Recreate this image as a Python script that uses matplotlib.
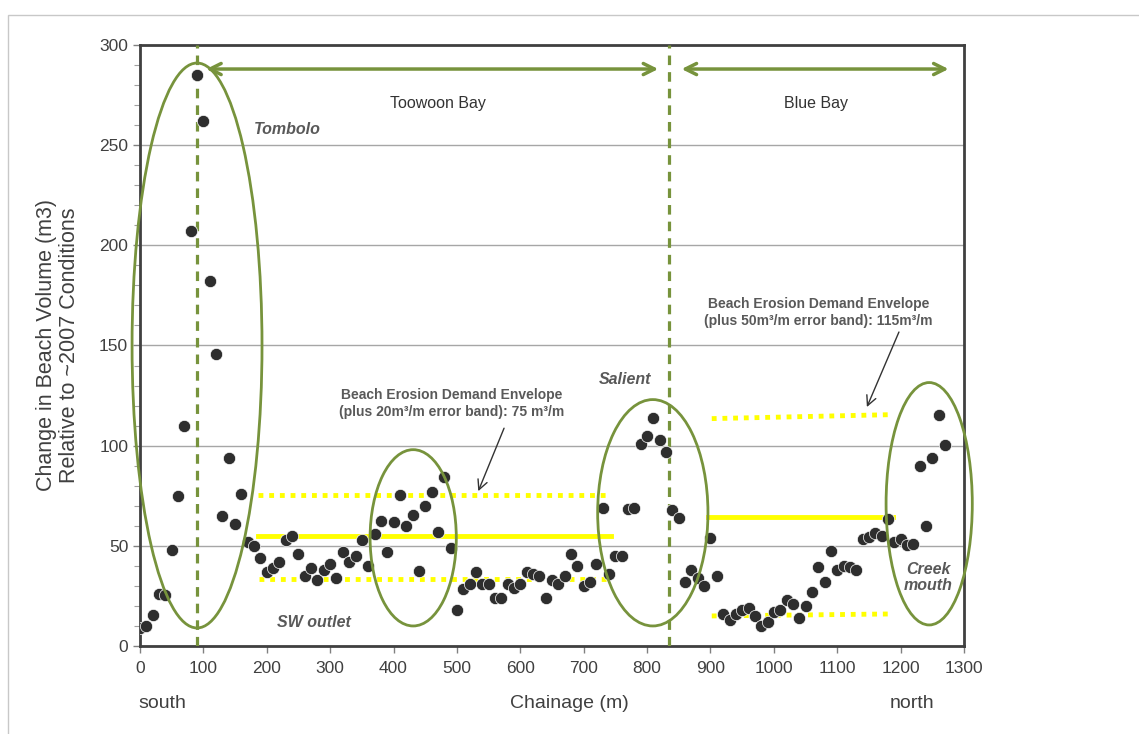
import numpy as np
import matplotlib.pyplot as plt
from matplotlib.patches import Ellipse, Rectangle

plt.rcParams['font.family'] = ['Liberation Sans', 'DejaVu Sans']

# beach volume change at each chainage station (10 m spacing)
chainage = list(range(0, 1280, 10))
volume = [
    9, 10, 15.5, 26, 25.5, 48, 75, 110, 207, 285,
    262, 182, 146, 65, 94, 61, 76, 52, 50, 44,
    37, 39, 42, 53, 55, 46, 35, 39, 33, 38,
    41, 34, 47, 42, 45, 53, 40, 56, 62.5, 47,
    62, 75.5, 60, 65.5, 37.5, 70, 77, 57, 84.5, 49,
    18, 28.5, 31, 37, 31, 31, 24, 24, 31, 29,
    31, 37, 36, 35, 24, 33, 31, 35, 46, 40,
    30, 32, 41, 69, 36, 45, 45, 68.5, 69, 101,
    105, 114, 103, 97, 68, 64, 32, 38, 34, 30,
    54, 35, 16, 13, 16, 18, 19, 15, 10, 12,
    17, 18, 23, 21, 14, 20, 27, 39.5, 32, 47.5,
    38, 40, 39.5, 38, 53.5, 54.5, 56.5, 55, 63.5, 52,
    53.5, 50.5, 51, 90, 60, 94, 115.5, 100.5,
]

# erosion demand envelopes: (x start, x end, y start, y end)
toowoon_env = (186, 743, 55, 55)
toowoon_band = [(186, 737, 75.5, 75.5), (188, 737, 33.5, 33.5)]
blue_env = (896, 1188, 64.5, 64.5)
blue_band = [(902, 1188, 113.5, 115.5), (902, 1188, 15, 16)]

# features circled on the plot: (centre x, centre y, width, height)
features = {
    'Tombolo': (90, 150, 205, 282),
    'SW outlet': (431, 54, 136, 88),
    'Salient': (809, 66.5, 174, 113),
    'Creek mouth': (1245, 71, 136, 121),
}

bay_limits = [90, 835]

green = '#77933C'
yellow = '#FFFF00'
grey_txt = '#595959'

fig = plt.figure(figsize=(11.39, 7.34), dpi=100)
fig.patches.append(Rectangle((0.007, -0.01), 1.1, 0.99, transform=fig.transFigure,
                             fill=False, edgecolor='#c8c8c8', lw=1))
ax = fig.add_axes([0.1229, 0.1199, 0.7235, 0.8188])

ax.set_xlim(0, 1300)
ax.set_ylim(0, 300)
ax.set_xticks(np.arange(0, 1301, 100))
ax.set_yticks(np.arange(0, 301, 50))
ax.set_yticks(np.arange(0, 301, 10), minor=True)
ax.yaxis.grid(True, color='#a6a6a6', lw=1)
ax.set_axisbelow(True)
for s in ax.spines.values():
    s.set_color('#404040')
    s.set_linewidth(2)
ax.tick_params(axis='both', which='major', labelsize=12.5, labelcolor='#404040',
               color='#808080', length=5, width=1)
ax.tick_params(axis='y', which='minor', color='#a0a0a0', length=4, width=0.8)
ax.tick_params(axis='x', pad=6)

# envelopes
x0, x1, y0, y1 = toowoon_env
ax.plot([x0, x1], [y0, y1], color=yellow, lw=3.5, zorder=2)
for x0, x1, y0, y1 in toowoon_band:
    ax.plot([x0, x1], [y0, y1], color=yellow, lw=3.5, ls=(0, (1, 1.2)), zorder=2)
x0, x1, y0, y1 = blue_env
ax.plot([x0, x1], [y0, y1], color=yellow, lw=3.5, zorder=2)
for x0, x1, y0, y1 in blue_band:
    ax.plot([x0, x1], [y0, y1], color=yellow, lw=3.5, ls=(0, (1, 1.2)), zorder=2)

ax.scatter(chainage, volume, s=78, color='#2e2e2e', edgecolor='white',
           linewidth=0.5, zorder=4)

for x in bay_limits:
    ax.axvline(x, color=green, lw=2.3, ls=(0, (3, 2.2)), zorder=3)

for cx, cy, w, h in features.values():
    ax.add_patch(Ellipse((cx, cy), w, h, fill=False, edgecolor=green, lw=2,
                         zorder=5, clip_on=False))

# bay extents
for xa, xb in [(100, 822), (850, 1280)]:
    ax.annotate('', xy=(xb, 288), xytext=(xa, 288),
                arrowprops=dict(arrowstyle='<->,head_length=0.8,head_width=0.4',
                                color=green, lw=2.5), zorder=5)
ax.text(470, 271, 'Toowoon Bay', ha='center', va='center', fontsize=11.5, color='#333333')
ax.text(1067, 271, 'Blue Bay', ha='center', va='center', fontsize=11.5, color='#333333')

lab = dict(fontsize=11.5, fontweight='bold', fontstyle='italic', color=grey_txt)
ax.text(180, 258, 'Tombolo', ha='left', va='center', **lab)
ax.text(275, 11.5, 'SW outlet', ha='center', va='center', **lab)
ax.text(765, 133, 'Salient', ha='center', va='center', **lab)
ax.text(1243, 34, 'Creek\nmouth', ha='center', va='center', linespacing=1.1, **lab)

note = dict(fontsize=10, fontweight='bold', color=grey_txt, ha='center', va='center',
            linespacing=1.3)
ax.text(492, 121, 'Beach Erosion Demand Envelope\n(plus 20m³/m error band): 75 m³/m', **note)
ax.annotate('', xy=(532, 76), xytext=(576, 110),
            arrowprops=dict(arrowstyle='->,head_length=0.7,head_width=0.35',
                            color='#333333', lw=1))
ax.text(1070, 166.5, 'Beach Erosion Demand Envelope\n(plus 50m³/m error band): 115m³/m', **note)
ax.annotate('', xy=(1145, 118), xytext=(1199, 158),
            arrowprops=dict(arrowstyle='->,head_length=0.7,head_width=0.35',
                            color='#333333', lw=1))

ax.set_ylabel('Change in Beach Volume (m3)\nRelative to ~2007 Conditions',
              fontsize=15.5, color='#404040', labelpad=14, linespacing=1.1)
fig.text(0.5, 0.042, 'Chainage (m)', ha='center', va='center', fontsize=14, color='#404040')
fig.text(0.1422, 0.042, 'south', ha='center', va='center', fontsize=14, color='#404040')
fig.text(0.8007, 0.042, 'north', ha='center', va='center', fontsize=14, color='#404040')

fig.savefig('out.png', dpi=100)
